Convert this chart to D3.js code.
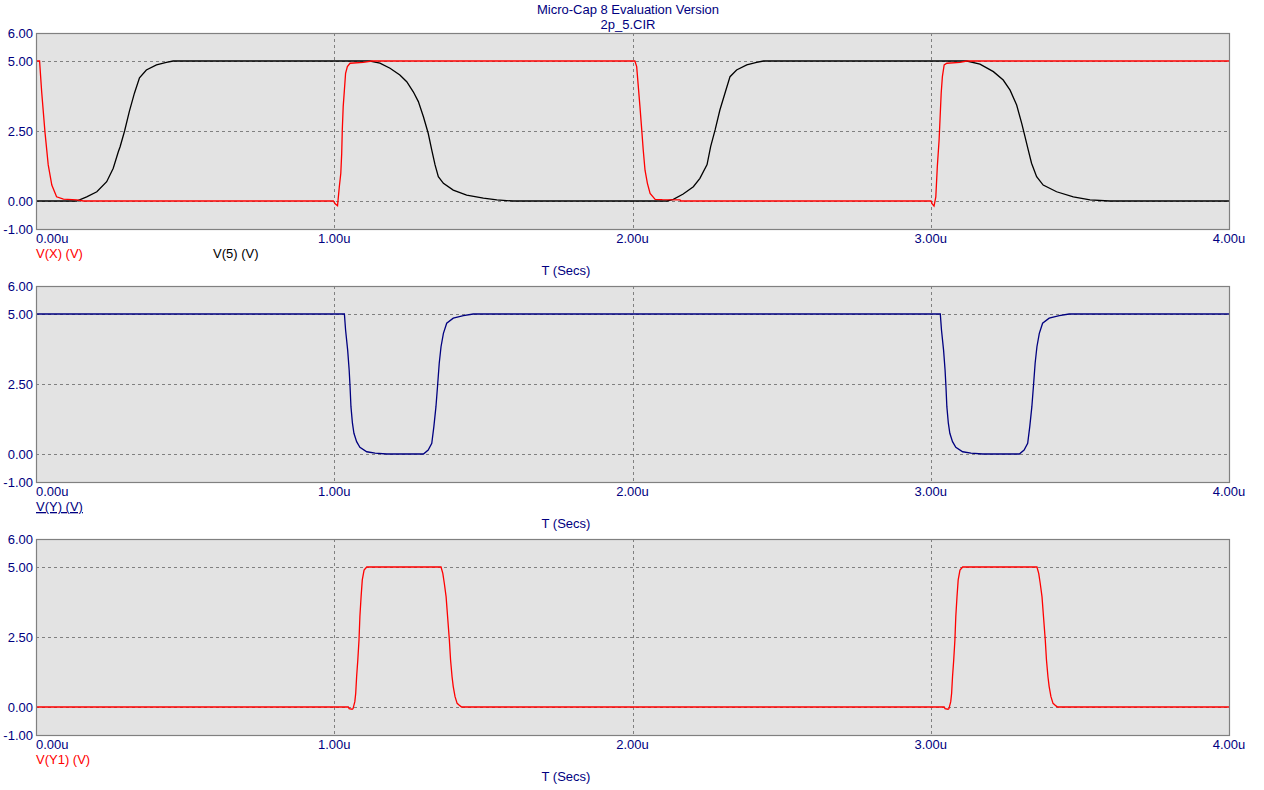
<!DOCTYPE html>
<html><head><meta charset="utf-8">
<script src="https://cdn.jsdelivr.net/npm/d3@7"></script>
<style>body{margin:0;background:#fff}svg{display:block}text{font-family:"Liberation Sans",Arial,sans-serif;font-size:13px}</style>
</head><body>
<svg id="c" width="1264" height="790"></svg>
<script>
const titleLines = ["Micro-Cap 8 Evaluation Version", "2p_5.CIR"];
const xTicks = [0, 1, 2, 3, 4];
const xTickLabels = ["0.00u", "1.00u", "2.00u", "3.00u", "4.00u"];
const yTicks = [-1, 0, 2.5, 5, 6];
const yTickLabels = ["-1.00", "0.00", "2.50", "5.00", "6.00"];
const xAxisTitle = "T (Secs)";

// V(X) — red, panel 1  [time us, volts]
const vX = [[0,5],[0.012,5],[0.019,3.9],[0.03,2.47],[0.041,1.29],[0.053,0.57],[0.069,0.15],[0.092,0.07],[0.136,0.04],[0.159,0],
[0.997,0],[1.003,-0.1],[1.011,-0.17],[1.017,0.51],[1.022,0.99],[1.025,1.7],[1.027,2.54],[1.03,3.37],[1.034,3.96],[1.038,4.56],[1.044,4.8],[1.053,4.92],[1.097,4.95],[1.126,5],
[2.008,5],[2.014,4.8],[2.025,3.37],[2.031,2.54],[2.036,1.82],[2.042,1.1],[2.05,0.63],[2.059,0.27],[2.076,0.06],[2.1,0.05],[2.159,0.04],[2.162,0],
[3.001,0],[3.005,-0.1],[3.011,-0.18],[3.017,0.15],[3.022,1.22],[3.028,2.18],[3.031,2.89],[3.035,3.85],[3.039,4.44],[3.045,4.86],[3.054,4.92],[3.098,4.95],[3.121,5],[4,5]];
// V(5) — black, panel 1
const v5 = [[0,0],[0.136,0],[0.17,0.15],[0.204,0.33],[0.237,0.69],[0.259,1.17],[0.276,1.76],[0.282,1.94],[0.297,2.5],[0.313,3.2],[0.33,3.85],[0.347,4.4],[0.37,4.68],[0.404,4.86],[0.437,4.95],[0.46,5],
[1.12,5],[1.153,4.92],[1.187,4.74],[1.22,4.5],[1.243,4.26],[1.265,3.9],[1.282,3.55],[1.299,3.01],[1.315,2.42],[1.327,1.82],[1.338,1.29],[1.349,0.87],[1.366,0.63],[1.399,0.39],[1.444,0.21],[1.5,0.1],[1.545,0.04],[1.6,0],
[2.116,0],[2.137,0.06],[2.17,0.25],[2.204,0.51],[2.226,0.81],[2.25,1.3],[2.262,1.94],[2.277,2.54],[2.293,3.25],[2.31,3.85],[2.327,4.44],[2.349,4.68],[2.383,4.86],[2.416,4.95],[2.439,5],
[3.121,5],[3.165,4.89],[3.21,4.62],[3.243,4.32],[3.266,3.96],[3.288,3.43],[3.305,2.77],[3.316,2.3],[3.327,1.82],[3.338,1.35],[3.355,0.87],[3.377,0.57],[3.422,0.33],[3.478,0.15],[3.534,0.04],[3.6,0],[4,0]];
// V(Y) — navy, panel 2
const vY = [[0,5],[1.034,5],[1.038,4.43],[1.045,3.71],[1.05,3.0],[1.053,2.4],[1.056,1.69],[1.061,1.1],[1.066,0.74],[1.075,0.44],[1.086,0.24],[1.109,0.08],[1.137,0.03],[1.176,0],
[1.299,0],[1.315,0.14],[1.327,0.38],[1.334,0.98],[1.341,1.69],[1.347,2.52],[1.352,3.24],[1.358,3.83],[1.366,4.31],[1.377,4.67],[1.399,4.85],[1.433,4.94],[1.466,5],
[3.032,5],[3.036,4.43],[3.043,3.71],[3.048,3.0],[3.051,2.4],[3.054,1.69],[3.059,1.1],[3.064,0.74],[3.073,0.44],[3.084,0.24],[3.107,0.08],[3.135,0.03],[3.174,0],
[3.297,0],[3.313,0.14],[3.325,0.38],[3.332,0.98],[3.339,1.69],[3.345,2.52],[3.35,3.24],[3.356,3.83],[3.364,4.31],[3.375,4.67],[3.397,4.85],[3.431,4.94],[3.464,5],[4,5]];
// V(Y1) — red, panel 3
const vY1 = [[0,0],[1.047,0],[1.05,-0.06],[1.06,-0.08],[1.063,-0.06],[1.069,0.19],[1.072,0.49],[1.075,1.08],[1.079,1.68],[1.083,2.39],[1.086,3.23],[1.09,3.94],[1.094,4.54],[1.1,4.89],[1.109,5],
[1.358,5],[1.364,4.77],[1.369,4.42],[1.375,3.94],[1.38,3.23],[1.386,2.39],[1.39,1.68],[1.395,1.08],[1.399,0.73],[1.405,0.37],[1.412,0.13],[1.422,0.04],[1.427,0],
[3.045,0],[3.048,-0.06],[3.058,-0.08],[3.061,-0.06],[3.067,0.19],[3.07,0.49],[3.073,1.08],[3.077,1.68],[3.081,2.39],[3.084,3.23],[3.088,3.94],[3.092,4.54],[3.098,4.89],[3.107,5],
[3.356,5],[3.362,4.77],[3.367,4.42],[3.373,3.94],[3.378,3.23],[3.384,2.39],[3.388,1.68],[3.393,1.08],[3.397,0.73],[3.403,0.37],[3.41,0.13],[3.42,0.04],[3.425,0],[4,0]];

const panels = [
  {top: 33, series: [{d: v5, c: "#000000"}, {d: vX, c: "#ff0000"}],
   legend: [{t: "V(X) (V)", x: 36, c: "#ff0000"}, {t: "V(5) (V)", x: 213, c: "#000000"}]},
  {top: 286, series: [{d: vY, c: "#000080"}],
   legend: [{t: "V(Y) (V)", x: 36, c: "#000080", u: true}]},
  {top: 539, series: [{d: vY1, c: "#ff0000"}],
   legend: [{t: "V(Y1) (V)", x: 36, c: "#ff0000"}]}
];

const svg = d3.select("#c");
const navy = "#000080";
const left = 36, right = 1229, ph = 196;
const x = d3.scaleLinear().domain([0, 4]).range([left, right]);

svg.selectAll("text.title").data(titleLines).join("text")
  .attr("x", 628).attr("y", (d, i) => 14 + i * 15)
  .attr("text-anchor", "middle").attr("fill", navy).text(d => d);

panels.forEach((p, pi) => {
  const y = d3.scaleLinear().domain([-1, 6]).range([p.top + ph, p.top]);
  const g = svg.append("g");
  g.append("rect").attr("x", left).attr("y", p.top).attr("width", right - left).attr("height", ph)
    .attr("fill", "#e3e3e3");
  // grid
  g.selectAll("line.gy").data([0, 2.5, 5]).join("line")
    .attr("x1", left).attr("x2", right).attr("y1", d => y(d) + 0.5).attr("y2", d => y(d) + 0.5)
    .attr("stroke", "#808080").attr("stroke-dasharray", "3,3");
  g.selectAll("line.gx").data([1, 2, 3]).join("line")
    .attr("y1", p.top).attr("y2", p.top + ph).attr("x1", d => Math.round(x(d)) + 0.5).attr("x2", d => Math.round(x(d)) + 0.5)
    .attr("stroke", "#808080").attr("stroke-dasharray", "3,3");
  // traces
  const cid = "clip" + pi;
  g.append("clipPath").attr("id", cid).append("rect")
    .attr("x", left).attr("y", p.top).attr("width", right - left).attr("height", ph);
  const line = d3.line().x(d => x(d[0])).y(d => y(d[1]));
  p.series.forEach(s => {
    g.append("path").attr("d", line(s.d)).attr("fill", "none").attr("stroke", s.c)
      .attr("stroke-width", 1.3).attr("clip-path", `url(#${cid})`);
  });
  // frame
  g.append("rect").attr("x", left + 0.5).attr("y", p.top + 0.5).attr("width", right - left).attr("height", ph)
    .attr("fill", "none").attr("stroke", "#808080").attr("stroke-width", 1.2);
  // y tick labels
  g.selectAll("text.yt").data(yTicks).join("text")
    .attr("x", 33).attr("y", d => y(d)).attr("dy", "0.36em").attr("text-anchor", "end")
    .attr("fill", navy).text((d, i) => yTickLabels[i]);
  // x tick labels
  g.selectAll("text.xt").data(xTicks).join("text")
    .attr("x", d => d === 0 ? left : x(d)).attr("y", p.top + ph + 14)
    .attr("text-anchor", d => d === 0 ? "start" : "middle")
    .attr("fill", navy).text((d, i) => xTickLabels[i]);
  // legends
  p.legend.forEach(l => {
    g.append("text").attr("x", l.x).attr("y", p.top + ph + 29).attr("fill", l.c)
      .attr("text-decoration", l.u ? "underline" : null).text(l.t);
  });
  g.append("text").attr("x", 566).attr("y", p.top + ph + 46).attr("text-anchor", "middle")
    .attr("fill", navy).text(xAxisTitle);
});
</script>
</body></html>
